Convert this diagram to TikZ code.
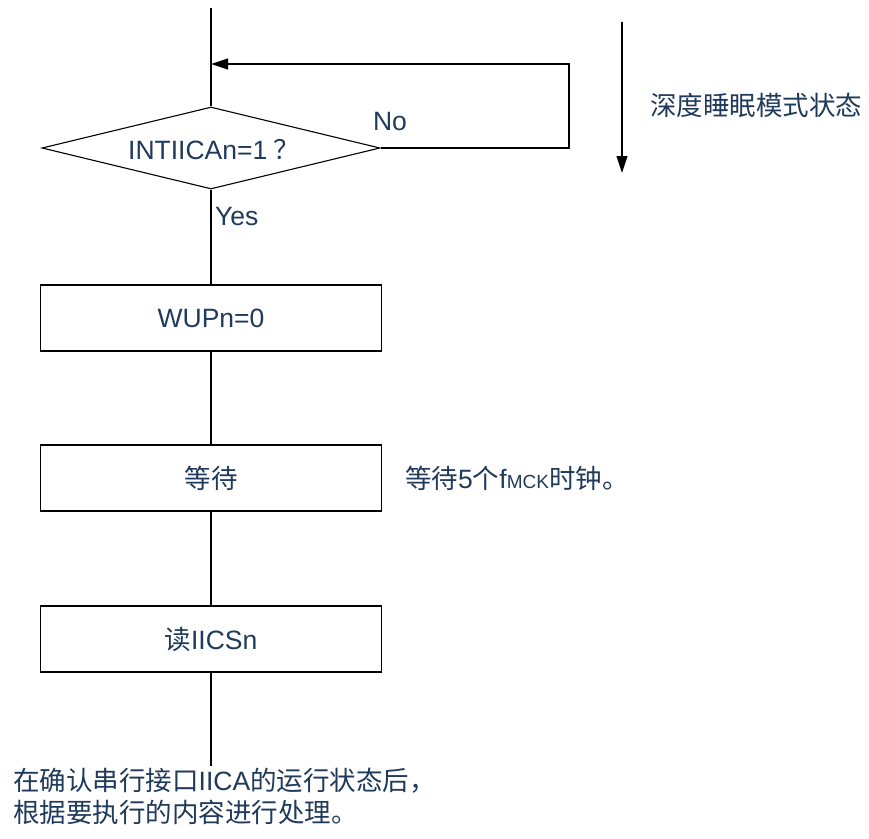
\documentclass[tikz,border=0pt]{standalone}
\usepackage{fontspec}
\setmainfont{Liberation Sans}
\newfontfamily\cjk{Noto Sans CJK SC}
\usetikzlibrary{arrows.meta,shapes.geometric}
\definecolor{txt}{HTML}{1F3A5A}
\tikzset{
  x=1pt, y=-1pt,
  line/.style={draw=black, line width=1.1pt},
  procbox/.style={draw=black, line width=1.1pt, minimum width=341pt, minimum height=66pt, inner sep=0pt, text=txt, font=\fontsize{26.5}{32}\selectfont},
  decision/.style={diamond, draw=black, line width=1.1pt, minimum width=338pt, minimum height=82pt, aspect=4.12, inner sep=0pt, text=txt, font=\fontsize{26.5}{32}\selectfont},
  lbl/.style={inner sep=0pt, text=txt, font=\fontsize{26.5}{32}\selectfont},
  tip/.style={-{Triangle[length=17pt,width=11pt]}}
}
\begin{document}
\begin{tikzpicture}
\useasboundingbox (0,0) rectangle (869,838);
% nodes
\node[decision] (dec) at (211,148) {};
\node[lbl] (dectext) at (214,150) {INTIICAn=1\hspace{6pt}{\cjk ？}};
\node[procbox] (b1) at (211,318) {WUPn=0};
\node[procbox] (b2) at (211,478) {{\cjk 等待}};
\node[procbox] (b3) at (211,639) {{\cjk 读}IICSn};
\coordinate (top) at (211,8);
\coordinate (join) at (211,64);
\coordinate (r1) at (569,148);
\coordinate (r2) at (569,64);
\coordinate (bot) at (211,766);
\coordinate (sa) at (622,22);
\coordinate (sb) at (622,173);
% labels
\node[lbl] (no) at (390,122) {No};
\node[lbl, anchor=west] (yes) at (215,217) {Yes};
\node[lbl, anchor=west] (sleep) at (650,105) {\cjk 深度睡眠模式状态};
\node[lbl, anchor=west] (wait) at (405,478) {{\cjk 等待}5{\cjk 个}f{\fontsize{19}{22}\selectfont MCK}{\cjk 时钟。}};
\node[lbl, anchor=north west, align=left] (note) at (13,768) {{\cjk 在确认串行接口}IICA{\cjk 的运行状态后，}\\{\cjk 根据要执行的内容进行处理。}};
% connectors
\draw[line] (top) -- (dec.north);
\draw[line] (dec.south) -- (b1.north);
\draw[line] (b1.south) -- (b2.north);
\draw[line] (b2.south) -- (b3.north);
\draw[line] (b3.south) -- (bot);
\draw[line, tip] (dec.east) -- (r1) -- (r2) -- (join);
\draw[line, tip] (sa) -- (sb);
\end{tikzpicture}
\end{document}
